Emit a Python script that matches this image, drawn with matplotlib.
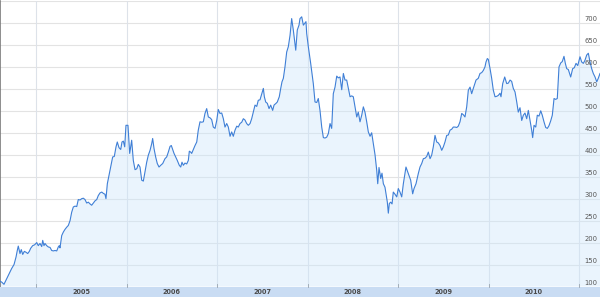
import matplotlib.pyplot as plt

# decimal year / closing price
years = [
    2004.602, 2004.621, 2004.646, 2004.676, 2004.705, 2004.731, 2004.757, 2004.779, 2004.793, 2004.804,
    2004.823, 2004.837, 2004.853, 2004.871, 2004.889, 2004.908, 2004.926, 2004.941, 2004.963, 2004.985,
    2005.008, 2005.025, 2005.044, 2005.063, 2005.074, 2005.088, 2005.099, 2005.118, 2005.136, 2005.155,
    2005.173, 2005.191, 2005.210, 2005.229, 2005.246, 2005.257, 2005.265, 2005.284, 2005.302, 2005.320,
    2005.339, 2005.357, 2005.376, 2005.394, 2005.412, 2005.431, 2005.450, 2005.467, 2005.486, 2005.505,
    2005.523, 2005.541, 2005.560, 2005.578, 2005.597, 2005.615, 2005.633, 2005.652, 2005.671, 2005.688,
    2005.707, 2005.726, 2005.744, 2005.762, 2005.773, 2005.788, 2005.810, 2005.825, 2005.847, 2005.865,
    2005.884, 2005.898, 2005.917, 2005.936, 2005.950, 2005.965, 2005.980, 2005.994, 2006.016, 2006.035,
    2006.057, 2006.075, 2006.094, 2006.113, 2006.130, 2006.149, 2006.168, 2006.186, 2006.204, 2006.223,
    2006.241, 2006.260, 2006.278, 2006.289, 2006.304, 2006.322, 2006.340, 2006.359, 2006.378, 2006.400,
    2006.425, 2006.444, 2006.462, 2006.481, 2006.495, 2006.510, 2006.525, 2006.547, 2006.561, 2006.583,
    2006.599, 2006.613, 2006.628, 2006.646, 2006.665, 2006.683, 2006.694, 2006.709, 2006.720, 2006.738,
    2006.757, 2006.776, 2006.793, 2006.812, 2006.831, 2006.849, 2006.867, 2006.886, 2006.904, 2006.923,
    2006.941, 2006.959, 2006.978, 2006.997, 2007.014, 2007.033, 2007.052, 2007.070, 2007.088, 2007.107,
    2007.125, 2007.144, 2007.162, 2007.180, 2007.199, 2007.218, 2007.235, 2007.254, 2007.273, 2007.291,
    2007.309, 2007.328, 2007.346, 2007.365, 2007.383, 2007.401, 2007.420, 2007.439, 2007.456, 2007.475,
    2007.494, 2007.512, 2007.523, 2007.538, 2007.556, 2007.575, 2007.593, 2007.615, 2007.630, 2007.652,
    2007.666, 2007.688, 2007.704, 2007.718, 2007.733, 2007.751, 2007.770, 2007.788, 2007.807, 2007.825,
    2007.843, 2007.862, 2007.870, 2007.887, 2007.906, 2007.917, 2007.936, 2007.954, 2007.972, 2007.983,
    2007.991, 2008.009, 2008.035, 2008.064, 2008.083, 2008.102, 2008.119, 2008.138, 2008.157, 2008.175,
    2008.193, 2008.212, 2008.230, 2008.249, 2008.267, 2008.285, 2008.304, 2008.323, 2008.340, 2008.359,
    2008.378, 2008.396, 2008.414, 2008.433, 2008.451, 2008.470, 2008.488, 2008.506, 2008.525, 2008.544,
    2008.561, 2008.580, 2008.599, 2008.617, 2008.635, 2008.654, 2008.672, 2008.691, 2008.709, 2008.727,
    2008.746, 2008.765, 2008.776, 2008.790, 2008.809, 2008.823, 2008.838, 2008.856, 2008.867, 2008.882,
    2008.893, 2008.904, 2008.919, 2008.934, 2008.948, 2008.967, 2008.986, 2009.003, 2009.022, 2009.041,
    2009.059, 2009.088, 2009.114, 2009.140, 2009.162, 2009.177, 2009.199, 2009.224, 2009.243, 2009.262,
    2009.280, 2009.298, 2009.317, 2009.335, 2009.354, 2009.372, 2009.390, 2009.409, 2009.428, 2009.445,
    2009.464, 2009.483, 2009.501, 2009.519, 2009.538, 2009.556, 2009.575, 2009.593, 2009.611, 2009.630,
    2009.649, 2009.666, 2009.685, 2009.704, 2009.722, 2009.740, 2009.759, 2009.777, 2009.796, 2009.814,
    2009.832, 2009.862, 2009.887, 2009.906, 2009.925, 2009.943, 2009.961, 2009.972, 2009.987, 2009.998,
    2010.017, 2010.035, 2010.053, 2010.072, 2010.091, 2010.108, 2010.127, 2010.138, 2010.157, 2010.179,
    2010.201, 2010.219, 2010.238, 2010.256, 2010.274, 2010.293, 2010.312, 2010.329, 2010.348, 2010.367,
    2010.385, 2010.403, 2010.422, 2010.440, 2010.459, 2010.477, 2010.488, 2010.503, 2010.522, 2010.539,
    2010.558, 2010.577, 2010.594, 2010.613, 2010.632, 2010.650, 2010.668, 2010.687, 2010.705, 2010.724,
    2010.742, 2010.760, 2010.779, 2010.798, 2010.815, 2010.834, 2010.849, 2010.864, 2010.882, 2010.908,
    2010.930, 2010.948, 2010.967, 2010.986, 2011.011, 2011.030, 2011.048, 2011.066, 2011.085, 2011.103,
    2011.122, 2011.140, 2011.158, 2011.177, 2011.196, 2011.213, 2011.232,
]
prices = [
    112, 110, 105, 118, 130, 141, 150, 167, 182, 192,
    175, 184, 173, 180, 178, 175, 180, 187, 193, 195,
    200, 193, 198, 191, 205, 193, 198, 193, 190, 189,
    182, 181, 182, 181, 190, 193, 188, 216, 224, 230,
    235, 239, 250, 269, 281, 283, 282, 298, 297, 300,
    301, 298, 290, 292, 288, 285, 290, 295, 298, 307,
    313, 315, 312, 310, 300, 334, 357, 372, 395, 396,
    418, 429, 416, 412, 429, 431, 418, 467, 467, 403,
    433, 387, 366, 368, 378, 372, 342, 340, 361, 383,
    399, 410, 425, 437, 414, 395, 380, 372, 376, 380,
    391, 395, 406, 419, 421, 412, 403, 393, 387, 376,
    372, 383, 376, 381, 379, 387, 408, 406, 403, 412,
    421, 429, 456, 475, 474, 475, 494, 505, 486, 484,
    480, 463, 460, 478, 503, 494, 495, 482, 463, 471,
    463, 442, 452, 442, 456, 465, 463, 471, 474, 482,
    479, 471, 467, 471, 482, 497, 513, 510, 524, 525,
    538, 551, 532, 520, 517, 505, 513, 501, 513, 517,
    520, 532, 551, 566, 574, 600, 634, 646, 672, 710,
    684, 653, 638, 684, 695, 710, 714, 695, 700, 703,
    676, 646, 608, 562, 520, 519, 528, 501, 463, 439,
    438, 440, 448, 471, 460, 539, 554, 579, 575, 577,
    548, 585, 570, 570, 551, 532, 534, 532, 509, 486,
    497, 475, 490, 509, 497, 475, 452, 442, 450, 425,
    400, 364, 334, 371, 346, 358, 334, 326, 311, 292,
    267, 289, 292, 288, 315, 310, 304, 323, 315, 304,
    334, 372, 357, 342, 311, 323, 334, 357, 372, 380,
    391, 392, 396, 406, 391, 399, 418, 444, 429, 427,
    421, 410, 418, 429, 444, 445, 456, 458, 463, 463,
    462, 465, 475, 494, 491, 486, 509, 547, 554, 539,
    551, 570, 574, 585, 587, 592, 600, 611, 619, 617,
    596, 574, 547, 532, 533, 535, 540, 532, 562, 577,
    562, 563, 570, 567, 551, 543, 520, 497, 507, 478,
    490, 495, 482, 501, 478, 456, 439, 467, 463, 490,
    488, 500, 490, 475, 462, 460, 466, 477, 490, 528,
    526, 528, 600, 609, 612, 624, 608, 596, 594, 577,
    596, 598, 608, 603, 623, 611, 608, 615, 627, 631,
    611, 596, 585, 577, 566, 574, 585,
]
year_labels = ['2005', '2006', '2007', '2008', '2009', '2010']
y_ticks = [100, 150, 200, 250, 300, 350, 400, 450, 500, 550, 600, 650, 700]

x0, x1 = years[0], years[-1]

fig = plt.figure(figsize=(6, 2.97), dpi=100)
fig.patch.set_facecolor('white')

# main plot area
ax = fig.add_axes([0, 10.5 / 297, 1, 285.5 / 297])
ax.set_xlim(x0, x1)
ax.set_ylim(100, 750)

for v in range(150, 751, 50):
    ax.axhline(v, color='#e3e3e3', lw=0.8, zorder=0.5)
for yr in range(2005, 2012):
    ax.axvline(yr, color='#dde2e9', lw=0.8, zorder=0.5)

ax.fill_between(years, prices, 100, color='#cde6fc', alpha=0.42, lw=0, zorder=1)
ax.plot(years, prices, color='#3f7fd6', lw=0.8, zorder=3)

for v in y_ticks:
    ax.text(0.996, v + 1.5, str(v), transform=ax.get_yaxis_transform(),
            ha='right', va='bottom', fontsize=4.9, color='#555555', zorder=4)

ax.set_xticks([])
ax.set_yticks([])
for side in ['top', 'right', 'bottom']:
    ax.spines[side].set_visible(False)
ax.spines['left'].set_color('#7a7a7a')
ax.spines['left'].set_linewidth(1.2)

# year band
band = fig.add_axes([0, 0, 1, 10.5 / 297])
band.set_facecolor('#c9dcf3')
band.set_xlim(x0, x1)
band.set_ylim(0, 1)
for i, lab in enumerate(year_labels):
    band.text(2005.5 + i, 0.45, lab, ha='center', va='center',
              fontsize=4.7, fontweight='bold', color='#4a4a4a')
for yr in range(2005, 2012):
    band.plot([yr, yr], [1.0, 1.25], color='#9aa4b0', lw=0.6, clip_on=False)
band.set_xticks([])
band.set_yticks([])
for s in band.spines.values():
    s.set_visible(False)

fig.savefig('out.png', dpi=100)
